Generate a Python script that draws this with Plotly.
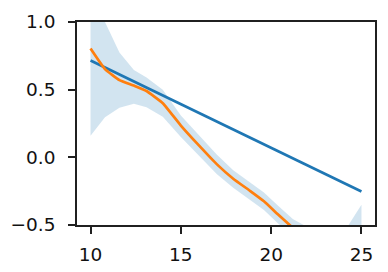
import plotly.graph_objects as go

# Linear fit (blue)
lin_x = [10, 25]
lin_y = [0.715, -0.253]

# Smoothed curve (orange) and its band
smooth_x = [10, 10.8, 11.6, 12.4, 13.1, 14.0, 15.0, 16.0, 17.0, 17.9, 18.8, 19.6, 20.4, 21.2, 22.0, 23.0, 24.0, 25.0]
smooth_y = [0.804, 0.652, 0.571, 0.530, 0.490, 0.400, 0.235, 0.088, -0.052, -0.158, -0.245, -0.325, -0.425, -0.52, -0.60, -0.69, -0.77, -0.84]
band_hi = [1.20, 1.00, 0.775, 0.645, 0.590, 0.500, 0.310, 0.165, 0.020, -0.095, -0.180, -0.260, -0.360, -0.455, -0.515, -0.580, -0.560, -0.350]
band_lo = [0.160, 0.296, 0.366, 0.396, 0.370, 0.300, 0.150, 0.010, -0.125, -0.225, -0.310, -0.390, -0.490, -0.590, -0.680, -0.780, -0.880, -1.20]

x_ticks = [10, 15, 20, 25]
x_ticktext = ["10", "15", "20", "25"]
y_ticks = [-0.5, 0.0, 0.5, 1.0]
y_ticktext = ["\u22120.5", "0.0", "0.5", "1.0"]

fig = go.Figure()
fig.add_trace(go.Scatter(x=smooth_x, y=band_lo, mode="lines", line=dict(width=0),
                         hoverinfo="skip", showlegend=False))
fig.add_trace(go.Scatter(x=smooth_x, y=band_hi, mode="lines", line=dict(width=0),
                         fill="tonexty", fillcolor="rgba(31,119,180,0.2)",
                         hoverinfo="skip", showlegend=False))
fig.add_trace(go.Scatter(x=lin_x, y=lin_y, mode="lines",
                         line=dict(color="#1f77b4", width=2.7), showlegend=False))
fig.add_trace(go.Scatter(x=smooth_x, y=smooth_y, mode="lines", line_shape="spline",
                         line=dict(color="#ff7f0e", width=2.7, smoothing=0.4), showlegend=False))

axis_common = dict(
    showgrid=False, zeroline=False, showline=True, linecolor="#202020", linewidth=1.6,
    mirror=True, ticks="outside", ticklen=7, tickwidth=1.6, tickcolor="#202020",
    tickfont=dict(family="DejaVu Sans", size=18.5, color="#111111"),
    automargin=False,
)
fig.update_xaxes(range=[9.25, 25.75], tickvals=x_ticks, ticktext=x_ticktext,
                 ticklabelstandoff=5, **axis_common)
fig.update_yaxes(range=[-0.5, 1.0], tickvals=y_ticks, ticktext=y_ticktext,
                 ticklabelstandoff=9, **axis_common)

# page body has an 8px default margin; size/margins compensate for it
fig.update_layout(
    width=372, height=256,
    margin=dict(l=69, r=5, t=14, b=39),
    paper_bgcolor="white", plot_bgcolor="white",
    showlegend=False,
)

fig.write_html("out.html")
